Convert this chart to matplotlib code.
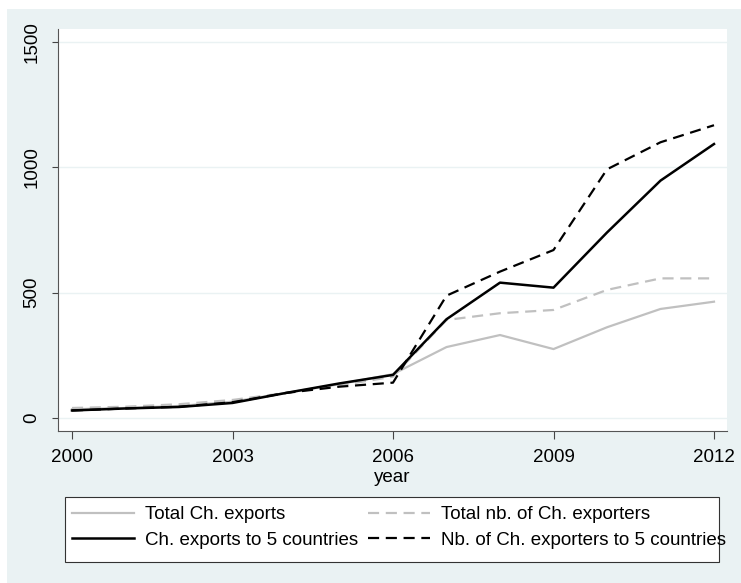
import matplotlib
matplotlib.use('Agg')
import matplotlib.pyplot as plt
from matplotlib.patches import Rectangle

# DATA
years = [2000, 2001, 2002, 2003, 2004, 2005, 2006, 2007, 2008, 2009, 2010, 2011, 2012]
total_exports = [35, 40, 48, 65, 100, 135, 175, 283, 331, 275, 362, 435, 464]
total_exporters = [40, 45, 55, 72, 100, 130, 165, 391, 418, 431, 511, 557, 557]
exports_5 = [30, 38, 44, 60, 100, 138, 172, 394, 540, 520, 740, 947, 1093]
exporters_5 = [30, 38, 45, 63, 100, 125, 141, 488, 584, 670, 992, 1100, 1168]
x_ticks = [2000, 2003, 2006, 2009, 2012]
y_ticks = [0, 500, 1000, 1500]

BG = '#eaf2f3'
GRAY = '#c0c0c0'
W, H = 741, 583

plt.rcParams['font.family'] = ['Liberation Sans', 'DejaVu Sans']
plt.rcParams['font.size'] = 13.5

fig = plt.figure(figsize=(W / 100, H / 100), dpi=100)
fig.patch.set_facecolor('white')

# outer Stata-style background
fig.patches.append(Rectangle((7 / W, 0), 1, 1 - 9 / H, transform=fig.transFigure,
                             facecolor=BG, edgecolor='none', zorder=-10))

# plot region: x 58..727, y 29..431 (pixels)
ax = fig.add_axes([58 / W, 1 - 431 / H, (727 - 58) / W, (431 - 29) / H])
ax.set_facecolor('white')

px_y = 1500 / (418 - 42)
ax.set_ylim(0 - (431 - 418) * px_y, 1500 + (42 - 29) * px_y)
px_x = 12 / (714 - 72)
ax.set_xlim(2000 - (72 - 58) * px_x, 2012 + (727 - 714) * px_x)

for v in y_ticks:
    ax.axhline(v, color=BG, lw=1.0, zorder=1)

l1, = ax.plot(years, total_exports, color=GRAY, lw=1.6, zorder=3)
l2, = ax.plot(years, total_exporters, color=GRAY, lw=1.6, ls=(0, (5, 3)), zorder=3)
l3, = ax.plot(years, exports_5, color='black', lw=1.8, zorder=4)
l4, = ax.plot(years, exporters_5, color='black', lw=1.6, ls=(0, (5, 3)), zorder=4)

ax.set_xticks(x_ticks)
ax.set_yticks(y_ticks)
ax.tick_params(axis='x', length=6, width=0.8, color='#444444', pad=7)
ax.tick_params(axis='y', length=4.5, width=0.8, color='#444444', pad=8, labelrotation=90)
for t in ax.get_yticklabels():
    t.set_va('center')
ax.set_xlabel('year', labelpad=2)

for s in ['top', 'right']:
    ax.spines[s].set_visible(False)
for s in ['left', 'bottom']:
    ax.spines[s].set_color('#555555')
    ax.spines[s].set_linewidth(0.8)

# legend box (Stata draws text spilling past its frame)
fig.patches.append(Rectangle((65 / W, 1 - 562 / H), (719 - 65) / W, (562 - 497) / H,
                             transform=fig.transFigure, facecolor='white',
                             edgecolor='#333333', lw=0.8, zorder=5))
leg = fig.legend([l1, l3, l2, l4],
                 ['Total Ch. exports', 'Ch. exports to 5 countries',
                  'Total nb. of Ch. exporters', 'Nb. of Ch. exporters to 5 countries'],
                 ncol=2, loc='upper left', bbox_to_anchor=(72 / W, 1 - 506 / H),
                 frameon=False, borderpad=0, borderaxespad=0,
                 handlelength=3.3, handletextpad=0.6, columnspacing=0.5,
                 labelspacing=0.45, fontsize=13.5)
leg.set_zorder(6)

fig.savefig('out.png', dpi=100, facecolor=fig.get_facecolor())
